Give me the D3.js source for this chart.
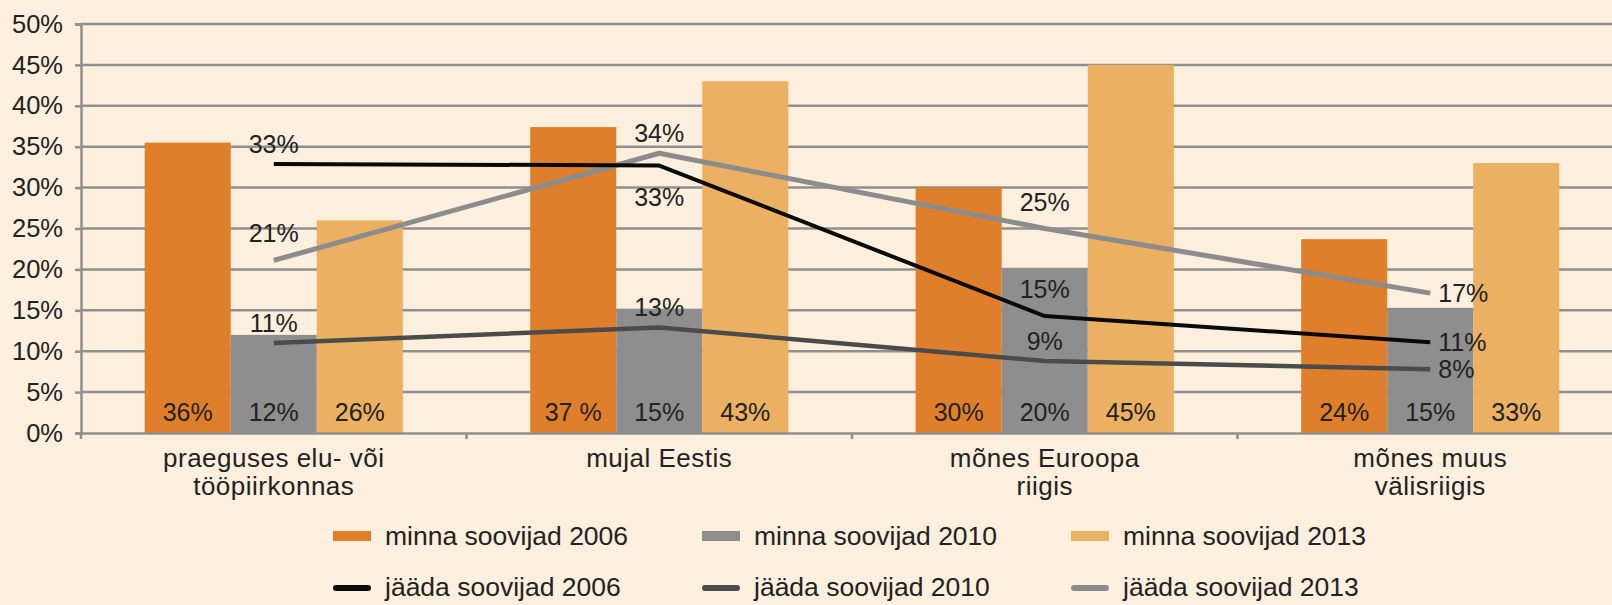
<!DOCTYPE html>
<html>
<head>
<meta charset="utf-8">
<script src="https://cdn.jsdelivr.net/npm/d3@7"></script>
<style>
  html, body { margin: 0; padding: 0; background: #fdefdd; }
  svg { display: block; }
</style>
</head>
<body>
<div id="chart"></div>
<script>
// Data
var categories = [
  ["praeguses elu- või", "tööpiirkonnas"],
  ["mujal Eestis"],
  ["mõnes Euroopa", "riigis"],
  ["mõnes muus", "välisriigis"]
];
var barSeries = ["minna soovijad 2006", "minna soovijad 2010", "minna soovijad 2013"];
var bars2006 = [35.5, 37.4, 30.0, 23.7];
var bars2010 = [12.0, 15.2, 20.2, 15.3];
var bars2013 = [26.0, 43.0, 45.0, 33.0];
var barLabels2006 = ["36%", "37 %", "30%", "24%"];
var barLabels2010 = ["12%", "15%", "20%", "15%"];
var barLabels2013 = ["26%", "43%", "45%", "33%"];

var lineSeries = ["jääda soovijad 2006", "jääda soovijad 2010", "jääda soovijad 2013"];
var lines2006 = [32.9, 32.7, 14.3, 11.1];
var lines2010 = [11.0, 12.9, 8.8, 7.8];
var lines2013 = [21.1, 34.2, 25.0, 17.1];
var lineLabels2006 = ["33%", "33%", "15%", "11%"];
var lineLabels2010 = ["11%", "13%", "9%", "8%"];
var lineLabels2013 = ["21%", "34%", "25%", "17%"];

var yTicks = [0, 5, 10, 15, 20, 25, 30, 35, 40, 45, 50];

// Styles
var barColours = ["#df7f2c", "#8e8e8e", "#ebb062"];
var lineColours = ["#0a0a0a", "#4b4b4b", "#8c8c8c"];
var lineWidths = [4, 4.5, 5];
// label placement for line values: "a" above, "A" high above, "b" below, "r" right
var linePlace = [
  ["a", "b", "A", "r"],
  ["a", "a", "a", "r"],
  ["A", "a", "A", "r"]
];
var FONT = "'Liberation Sans', Arial, Helvetica, sans-serif";

var width = 1612, height = 605;
var x0 = 81, x1 = 1623, yTop = 24, yBot = 433;

var svg = d3.select("#chart").append("svg")
  .attr("width", width).attr("height", height);
svg.append("rect").attr("width", width).attr("height", height).attr("fill", "#fdefdd");

var x = d3.scaleBand().domain(d3.range(categories.length)).range([x0, x1]).padding(0);
var xSub = d3.scaleBand().domain(d3.range(barSeries.length))
  .range([0, x.bandwidth()]).paddingInner(0).paddingOuter(0.74);
var y = d3.scaleLinear().domain([0, 50]).range([yBot, yTop]);

// Gridlines + y axis
var yAxis = d3.axisLeft(y).tickValues(yTicks).tickSize(6).tickPadding(12)
  .tickFormat(function (d) { return d + "%"; });
svg.append("g").attr("transform", "translate(" + x0 + ",0)")
  .call(yAxis)
  .call(function (g) {
    g.select(".domain").attr("stroke", "#8f8f8f").attr("stroke-width", 2.5);
    g.selectAll(".tick line").attr("stroke", "#8f8f8f").attr("stroke-width", 2.5);
    g.selectAll(".tick text").attr("font-family", FONT).attr("font-size", 25.5).attr("fill", "#222");
  });
svg.append("g").selectAll("line").data(yTicks.filter(function (d) { return d > 0; })).join("line")
  .attr("x1", x0).attr("x2", width)
  .attr("y1", function (d) { return y(d); }).attr("y2", function (d) { return y(d); })
  .attr("stroke", "#8f8f8f").attr("stroke-width", 2.5);

// Bars
var barData = [bars2006, bars2010, bars2013];
var barLabelData = [barLabels2006, barLabels2010, barLabels2013];
barData.forEach(function (vals, s) {
  svg.append("g").selectAll("rect").data(vals).join("rect")
    .attr("x", function (d, i) { return x(i) + xSub(s); })
    .attr("width", xSub.bandwidth())
    .attr("y", function (d) { return y(d); })
    .attr("height", function (d) { return y(0) - y(d); })
    .attr("fill", barColours[s]);
  svg.append("g").selectAll("text").data(barLabelData[s]).join("text")
    .attr("x", function (d, i) { return x(i) + xSub(s) + xSub.bandwidth() / 2; })
    .attr("y", y(0) - 12)
    .attr("text-anchor", "middle")
    .attr("font-family", FONT).attr("font-size", 25).attr("fill", "#222")
    .text(function (d) { return d; });
});

// X axis baseline + ticks
var xAxis = d3.axisBottom(x).tickSize(0).tickFormat("");
svg.append("g").attr("transform", "translate(0," + yBot + ")").call(xAxis)
  .call(function (g) { g.select(".domain").attr("stroke", "#8f8f8f").attr("stroke-width", 2.5); });
svg.append("g").selectAll("line").data(d3.range(categories.length + 1)).join("line")
  .attr("x1", function (i) { return x0 + i * x.step(); })
  .attr("x2", function (i) { return x0 + i * x.step(); })
  .attr("y1", yBot).attr("y2", yBot + 6)
  .attr("stroke", "#8f8f8f").attr("stroke-width", 2.5);

// Category labels
svg.append("g").selectAll("text").data(categories).join("text")
  .attr("x", function (d, i) { return x(i) + x.bandwidth() / 2; })
  .attr("y", 467)
  .attr("text-anchor", "middle")
  .attr("font-family", FONT).attr("font-size", 26).attr("letter-spacing", 0.5).attr("fill", "#222")
  .each(function (d) {
    var t = d3.select(this);
    d.forEach(function (line, k) {
      t.append("tspan").attr("x", t.attr("x")).attr("dy", k === 0 ? 0 : 28).text(line);
    });
  });

// Lines
var lineData = [lines2006, lines2010, lines2013];
var lineLabelData = [lineLabels2006, lineLabels2010, lineLabels2013];
var line = d3.line()
  .x(function (d, i) { return x(i) + x.bandwidth() / 2; })
  .y(function (d) { return y(d); });
[2, 1, 0].forEach(function (s) {
  svg.append("path").datum(lineData[s])
    .attr("d", line)
    .attr("fill", "none")
    .attr("stroke", lineColours[s])
    .attr("stroke-width", lineWidths[s])
    .attr("stroke-linejoin", "round");
});
lineData.forEach(function (vals, s) {
  svg.append("g").selectAll("text").data(vals).join("text")
    .attr("x", function (d, i) {
      var cx = x(i) + x.bandwidth() / 2;
      return linePlace[s][i] === "r" ? cx + 8 : cx;
    })
    .attr("y", function (d, i) {
      var p = linePlace[s][i], py = y(d);
      if (p === "a") return py - 11;
      if (p === "A") return py - 18;
      if (p === "b") return py + 40;
      return py + 9;
    })
    .attr("text-anchor", function (d, i) { return linePlace[s][i] === "r" ? "start" : "middle"; })
    .attr("font-family", FONT).attr("font-size", 25).attr("fill", "#222")
    .text(function (d, i) { return lineLabelData[s][i]; });
});

// Legend
var legendX = d3.scalePoint().domain(d3.range(3)).range([333, 1071]);
var legendRows = [536, 588];
var lg = svg.append("g");
barSeries.forEach(function (name, s) {
  var gx = legendX(s);
  lg.append("rect").attr("x", gx).attr("y", legendRows[0] - 5).attr("width", 38).attr("height", 10)
    .attr("fill", barColours[s]);
  lg.append("text").attr("x", gx + 52).attr("y", legendRows[0] + 9)
    .attr("font-family", FONT).attr("font-size", 26.5).attr("fill", "#222").text(name);
});
lineSeries.forEach(function (name, s) {
  var gx = legendX(s);
  lg.append("line").attr("x1", gx + 3).attr("x2", gx + 35)
    .attr("y1", legendRows[1]).attr("y2", legendRows[1])
    .attr("stroke", lineColours[s]).attr("stroke-width", 6).attr("stroke-linecap", "round");
  lg.append("text").attr("x", gx + 52).attr("y", legendRows[1] + 8)
    .attr("font-family", FONT).attr("font-size", 26.5).attr("fill", "#222").text(name);
});
</script>
</body>
</html>
